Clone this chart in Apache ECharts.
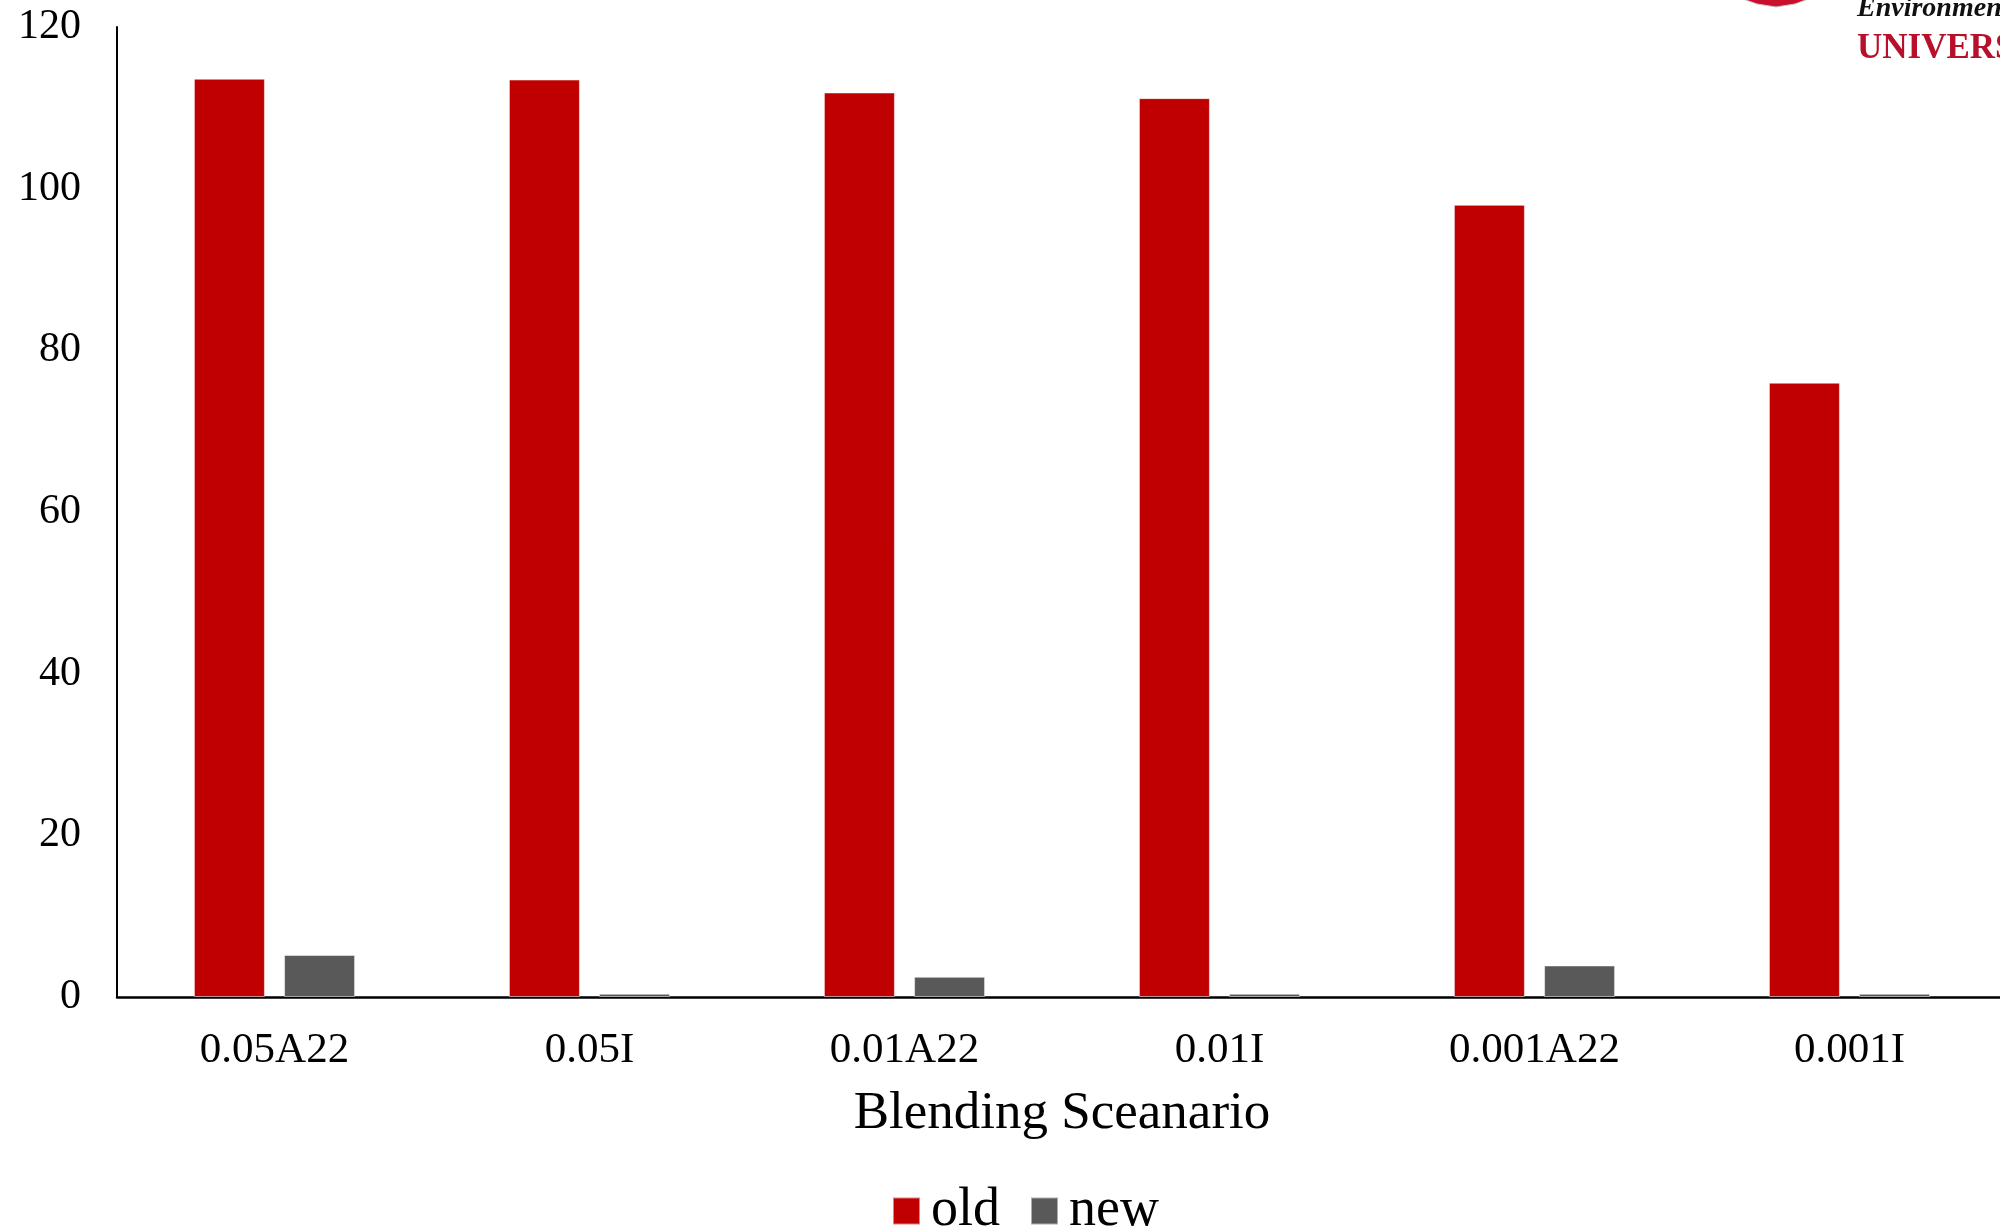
<!DOCTYPE html>
<html>
<head>
<meta charset="utf-8">
<script src="https://cdn.jsdelivr.net/npm/echarts@6/dist/echarts.min.js"></script>
<style>
  html, body { margin: 0; padding: 0; background: #fff; overflow: hidden; }
  #chart { width: 2010px; height: 1229px; }
</style>
</head>
<body>
<div id="chart"></div>
<script>
// Blending scenarios along the x axis
const categories = ['0.05A22', '0.05I', '0.01A22', '0.01I', '0.001A22', '0.001I'];
// Values per scenario
const oldValues = [113.6, 113.5, 111.9, 111.2, 98.0, 76.0];
const newValues = [5.2, 0.4, 2.5, 0.4, 3.9, 0.4];
// Y axis range
const yMin = 0, yMax = 120, yStep = 20;

const serif = '"Liberation Serif", "Times New Roman", serif';

const chart = echarts.init(document.getElementById('chart'), null, { renderer: 'canvas' });

chart.setOption({
  backgroundColor: '#ffffff',
  animation: false,
  // plot area runs slightly past the right edge of the visible page
  grid: { left: 117, top: 27, width: 1890, height: 970, containLabel: false },
  legend: {
    data: ['old', 'new'],
    left: 892,
    top: 1184,
    padding: 0,
    itemWidth: 27,
    itemHeight: 27,
    itemGap: 30,
    icon: 'rect',
    textStyle: { fontFamily: serif, fontSize: 54, color: '#000', padding: [0, 0, 0, 6] }
  },
  xAxis: {
    type: 'category',
    data: categories,
    boundaryGap: true,
    name: 'Blending Sceanario',
    nameLocation: 'middle',
    nameGap: 91,
    nameTextStyle: { fontFamily: serif, fontSize: 53, color: '#000' },
    axisLine: { show: true, lineStyle: { color: '#000', width: 2.5 } },
    axisTick: { show: false },
    axisLabel: { fontFamily: serif, fontSize: 43, color: '#000', margin: 32, interval: 0 },
    splitLine: { show: false }
  },
  yAxis: {
    type: 'value',
    min: yMin,
    max: yMax,
    interval: yStep,
    axisLine: { show: true, lineStyle: { color: '#000', width: 2 } },
    axisTick: { show: false },
    axisLabel: { fontFamily: serif, fontSize: 42, color: '#000', margin: 36 },
    splitLine: { show: false }
  },
  series: [
    {
      name: 'old',
      type: 'bar',
      data: oldValues,
      barWidth: 71,
      barGap: '27%',
      itemStyle: { color: '#C00000', borderColor: 'rgba(255,255,255,0.5)', borderWidth: 1 }
    },
    {
      name: 'new',
      type: 'bar',
      data: newValues,
      barWidth: 71,
      barGap: '27%',
      itemStyle: { color: '#595959', borderColor: 'rgba(255,255,255,0.5)', borderWidth: 1 }
    }
  ],
  graphic: [
    // corner logo: crest and wordmark, partly running off the page edge
    {
      type: 'polygon',
      shape: { points: [[1740, -4], [1811, -4], [1811, -2], [1795, 4], [1776, 7], [1757, 4], [1740, -2]] },
      style: { fill: '#c8102e', stroke: '#c9c9c9', lineWidth: 1 }
    },
    {
      type: 'text',
      x: 1857,
      y: -5,
      style: { text: 'Environment', font: 'italic bold 28px ' + serif, fill: '#111' }
    },
    {
      type: 'text',
      x: 1857,
      y: 31,
      style: { text: 'UNIVERSITY', font: 'bold 35px ' + serif, fill: '#b8102a' }
    }
  ]
});
</script>
</body>
</html>
